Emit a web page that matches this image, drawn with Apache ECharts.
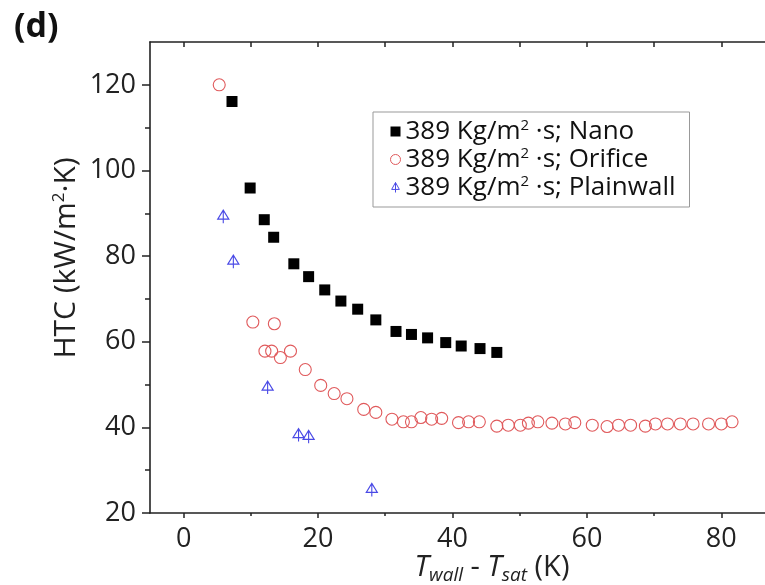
<!DOCTYPE html>
<html><head><meta charset="utf-8">
<script src="https://cdn.jsdelivr.net/npm/echarts@6/dist/echarts.min.js"></script>
<style>html,body{margin:0;padding:0;background:#fff}#c{width:765px;height:585px}</style>
</head><body><div id="c"></div>
<script>
// ---- data ----
const nanoX = [7.2, 9.9, 12.0, 13.4, 16.4, 18.6, 21.0, 23.4, 25.9, 28.6, 31.6, 33.9, 36.3, 39.0, 41.3, 44.1, 46.6];
const nanoY = [116.1, 95.9, 88.5, 84.4, 78.2, 75.2, 72.1, 69.5, 67.6, 65.1, 62.4, 61.7, 60.9, 59.8, 59.0, 58.4, 57.5];
const orificeX = [5.3, 10.3, 12.1, 13.1, 13.5, 14.4, 15.9, 18.1, 20.4, 22.4, 24.3, 26.8, 28.6, 31.0, 32.7, 33.9, 35.3, 36.9, 38.4, 40.9, 42.4, 44.0, 46.6, 48.3, 50.1, 51.3, 52.7, 54.8, 56.8, 58.2, 60.8, 63.0, 64.7, 66.5, 68.7, 70.2, 72.0, 73.9, 75.8, 78.1, 80.0, 81.6];
const orificeY = [120.0, 64.6, 57.8, 57.8, 64.2, 56.3, 57.8, 53.5, 49.8, 47.9, 46.7, 44.2, 43.5, 41.9, 41.3, 41.3, 42.3, 41.9, 42.1, 41.1, 41.3, 41.3, 40.3, 40.5, 40.5, 41.0, 41.3, 41.0, 40.8, 41.1, 40.5, 40.2, 40.5, 40.5, 40.3, 40.8, 40.8, 40.8, 40.8, 40.8, 40.8, 41.3];
const plainX = [5.9, 7.4, 12.5, 17.1, 18.6, 28.0];
const plainY = [89.2, 78.7, 49.3, 38.2, 37.8, 25.4];
const xMajorTicks = [0, 20, 40, 60, 80];
const xMinorTicks = [10, 30, 50, 70];
const xTopTicks = [0, 10, 20, 30, 40, 50, 60, 70, 80];
const yMajorTicks = [20, 40, 60, 80, 100, 120];
const yMinorTicks = [30, 50, 70, 90, 110];
const seriesNames = ['389 Kg/m² ·s; Nano', '389 Kg/m² ·s; Orifice', '389 Kg/m² ·s; Plainwall'];

const zip = (a, b) => a.map((v, i) => [v, b[i]]);
const FONT = '"Open Sans", "DejaVu Sans", sans-serif';
const AX = '#222';
const RED = '#e05a5c', BLUE = '#4a4ae6';
const TRI = 'path://M6,0 L11,9 L1,9 Z M6,0 L6,13';
const chart = echarts.init(document.getElementById('c'));
const xBase = {type: 'value', min: -5, max: 86.5, splitLine: {show: false}};
const yBase = {type: 'value', min: 20, max: 130, splitLine: {show: false}};
chart.setOption({
  animation: false,
  backgroundColor: '#fff',
  grid: {left: 150, top: 42, right: 0, bottom: 72},
  xAxis: [
    Object.assign({}, xBase, {position: 'bottom',
      axisLine: {show: true, onZero: false, lineStyle: {color: AX, width: 1.6}},
      axisTick: {show: true, customValues: xMajorTicks, length: 5, lineStyle: {color: AX, width: 1.5}},
      axisLabel: {customValues: xMajorTicks, margin: 13, fontSize: 27, fontFamily: FONT, color: '#222'}}),
    Object.assign({}, xBase, {position: 'bottom',
      axisLine: {show: false, onZero: false},
      axisTick: {show: true, customValues: xMinorTicks, length: 3, lineStyle: {color: AX, width: 1.5}},
      axisLabel: {show: false}}),
    Object.assign({}, xBase, {position: 'top',
      axisLine: {show: true, onZero: false, lineStyle: {color: AX, width: 1.6}},
      axisTick: {show: true, inside: true, customValues: xTopTicks, length: 5, lineStyle: {color: AX, width: 1.5}},
      axisLabel: {show: false}})
  ],
  yAxis: [
    Object.assign({}, yBase, {position: 'left',
      axisLine: {show: true, onZero: false, lineStyle: {color: AX, width: 1.6}},
      axisTick: {show: true, customValues: yMajorTicks, length: 8, lineStyle: {color: AX, width: 1.5}},
      axisLabel: {customValues: yMajorTicks, margin: 14, fontSize: 27, fontFamily: FONT, color: '#222'}}),
    Object.assign({}, yBase, {position: 'left',
      axisLine: {show: false, onZero: false},
      axisTick: {show: true, customValues: yMinorTicks, length: 5, lineStyle: {color: AX, width: 1.5}},
      axisLabel: {show: false}})
  ],
  legend: {
    left: 373, top: 112, orient: 'vertical',
    padding: [6, 14, 6, 17], itemGap: 1, itemWidth: 10, itemHeight: 10,
    borderColor: '#999', borderWidth: 1,
    data: [
      {name: seriesNames[0]},
      {name: seriesNames[1], itemStyle: {color: 'rgba(255,255,255,0)', borderColor: RED, borderWidth: 1}},
      {name: seriesNames[2], itemStyle: {color: 'rgba(255,255,255,0)', borderColor: BLUE, borderWidth: 1}}
    ],
    formatter: n => n.replace('²', '{sup|2}'),
    textStyle: {fontFamily: FONT, fontSize: 26, color: '#111', lineHeight: 27,
      rich: {sup: {fontFamily: FONT, fontSize: 15, color: '#111', padding: [0, 0, 12, 0]}}}
  },
  graphic: [
    {type: 'text', left: 14, top: 10, style: {text: '(d)', fontFamily: FONT, fontWeight: 'bold', fontSize: 34, fill: '#111'}},
    {type: 'text', x: 66, y: 258, rotation: Math.PI / 2,
      style: {text: 'HTC (kW/m{sup|2}·K)', fontFamily: FONT, fontSize: 30, fill: '#222', align: 'center', verticalAlign: 'middle',
        rich: {sup: {fontFamily: FONT, fontSize: 17, fill: '#222', padding: [0, 0, 13, 0]}}}},
    {type: 'text', x: 492, y: 568,
      style: {text: '{it|T}{sub|wall} - {it|T}{sub|sat} (K)', fontFamily: FONT, fontSize: 29, fill: '#222', align: 'center', verticalAlign: 'middle',
        rich: {it: {fontFamily: FONT, fontSize: 29, fontStyle: 'italic', fill: '#222'},
               sub: {fontFamily: FONT, fontSize: 19, fontStyle: 'italic', fill: '#222', padding: [16, 0, 0, 0]}}}}
  ],
  series: [
    {type: 'scatter', name: seriesNames[0], xAxisIndex: 0, yAxisIndex: 0, data: zip(nanoX, nanoY),
      symbol: 'rect', symbolSize: 11, itemStyle: {color: '#000', opacity: 1}},
    {type: 'scatter', name: seriesNames[1], xAxisIndex: 0, yAxisIndex: 0, data: zip(orificeX, orificeY),
      symbol: 'circle', symbolSize: 12, itemStyle: {color: 'rgba(255,255,255,0)', borderColor: RED, borderWidth: 1.1, opacity: 1}},
    {type: 'scatter', name: seriesNames[2], xAxisIndex: 0, yAxisIndex: 0, data: zip(plainX, plainY),
      symbol: TRI, symbolSize: [11, 13], itemStyle: {color: 'rgba(255,255,255,0)', borderColor: BLUE, borderWidth: 1.2, opacity: 1}}
  ]
});
</script>
</body></html>
